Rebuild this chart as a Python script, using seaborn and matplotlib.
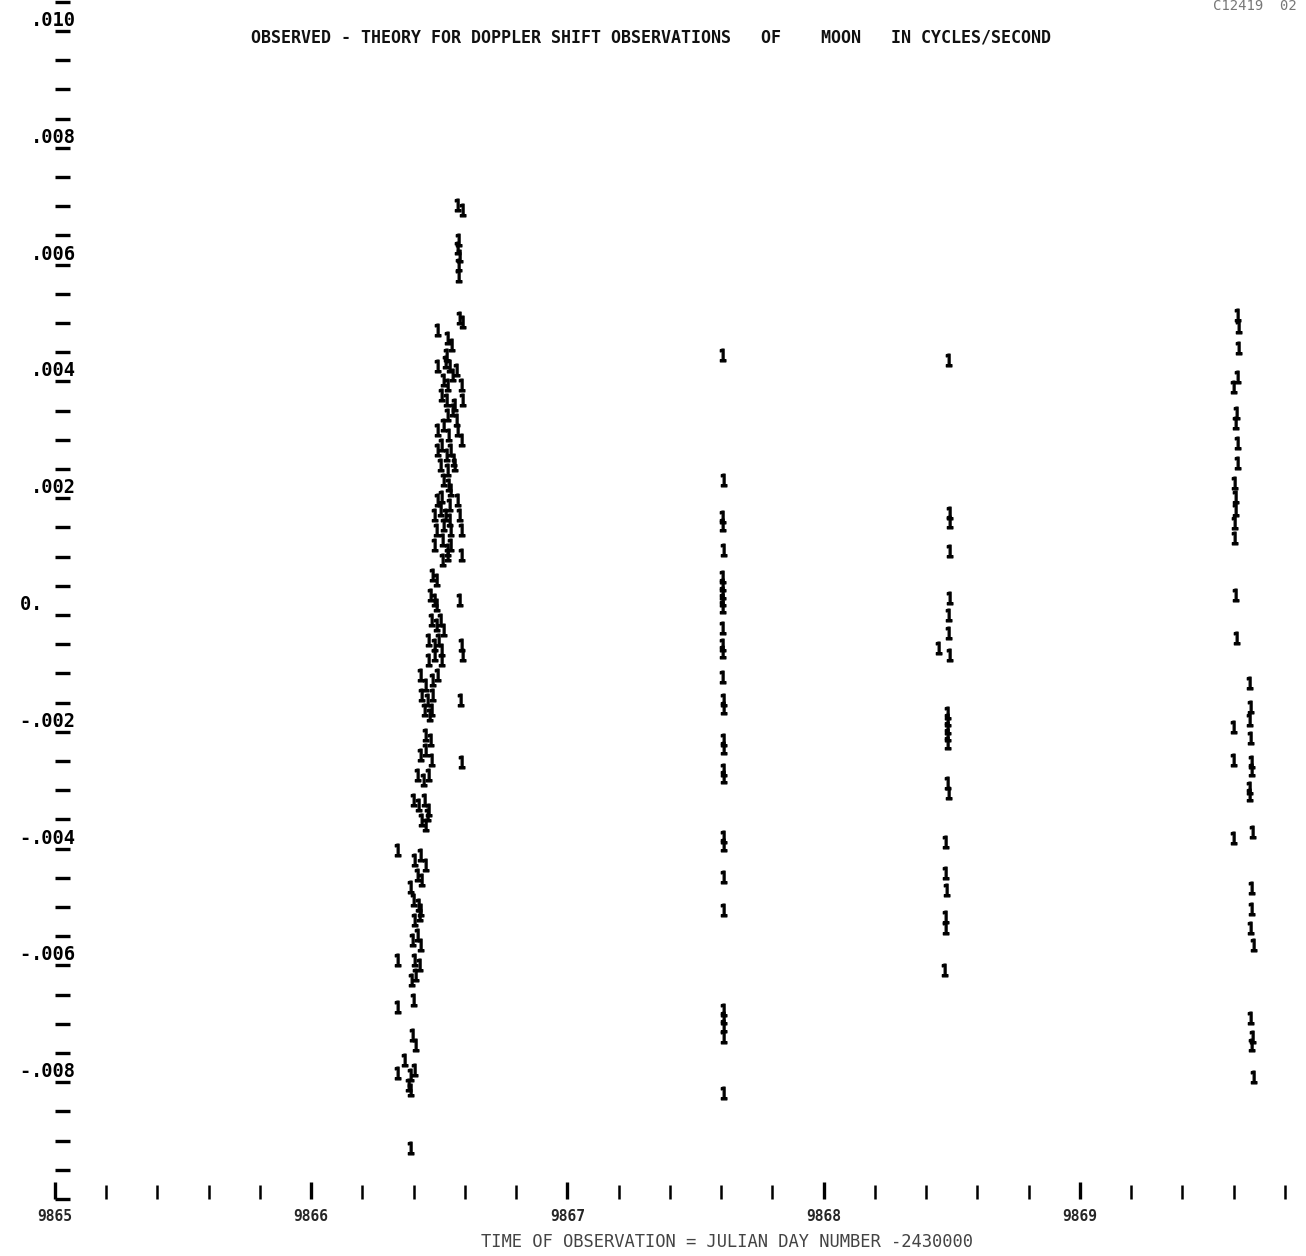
import numpy as np
import pandas as pd
import matplotlib
matplotlib.use("Agg")
import matplotlib.pyplot as plt
import matplotlib.transforms as mtransforms
from matplotlib.textpath import TextPath
from matplotlib.font_manager import FontProperties
from matplotlib.path import Path
import seaborn as sns

# ---------------- data (time = JD - 2430000, residual in cycles/second) ----------------
# pass 1 (around 9866.3 - 9866.6)
t_pass1 = [9866.569, 9866.589, 9866.573, 9866.569, 9866.577, 9866.573, 9866.573,
           9866.577, 9866.589, 9866.491, 9866.530, 9866.546, 9866.526,
           9866.491, 9866.522, 9866.538, 9866.565,
           9866.514, 9866.530, 9866.550, 9866.585,
           9866.507, 9866.526, 9866.557, 9866.589,
           9866.530, 9866.550, 9866.565,
           9866.491, 9866.514, 9866.534, 9866.569, 9866.585,
           9866.491, 9866.507, 9866.526, 9866.542, 9866.553,
           9866.503, 9866.530, 9866.557,
           9866.514, 9866.534, 9866.542,
           9866.491, 9866.507, 9866.538, 9866.569,
           9866.479, 9866.503, 9866.522, 9866.538, 9866.577,
           9866.487, 9866.514, 9866.542, 9866.585,
           9866.479, 9866.511, 9866.530, 9866.542,
           9866.511, 9866.530, 9866.585,
           9866.471, 9866.487,
           9866.464, 9866.479, 9866.487, 9866.577,
           9866.468, 9866.487, 9866.503, 9866.514,
           9866.456, 9866.479, 9866.495, 9866.507, 9866.585,
           9866.456, 9866.479, 9866.507, 9866.589,
           9866.425, 9866.444, 9866.471, 9866.491,
           9866.429, 9866.452, 9866.471, 9866.581,
           9866.440, 9866.460, 9866.468,
           9866.444, 9866.464,
           9866.425, 9866.444, 9866.468, 9866.585,
           9866.413, 9866.436, 9866.456,
           9866.397, 9866.417, 9866.440, 9866.456,
           9866.429, 9866.444, 9866.452,
           9866.335,
           9866.401, 9866.425, 9866.444,
           9866.386, 9866.413, 9866.429,
           9866.397, 9866.417, 9866.425,
           9866.401, 9866.421,
           9866.393, 9866.413, 9866.425,
           9866.335, 9866.401, 9866.421,
           9866.390, 9866.405,
           9866.335, 9866.397,
           9866.393, 9866.405,
           9866.362,
           9866.335, 9866.386, 9866.401,
           9866.378, 9866.386,
           9866.386]
r_pass1 = [0.00702, 0.00693, 0.00642, 0.00628, 0.00615, 0.00599, 0.00580,
           0.00509, 0.00502, 0.00488, 0.00475, 0.00462, 0.00445,
           0.00426, 0.00433, 0.00426, 0.00420,
           0.00402, 0.00394, 0.00411, 0.00394,
           0.00377, 0.00368, 0.00360, 0.00368,
           0.00342, 0.00351, 0.00334,
           0.00317, 0.00325, 0.00308, 0.00317, 0.00300,
           0.00283, 0.00291, 0.00274, 0.00283, 0.00265,
           0.00257, 0.00248, 0.00257,
           0.00231, 0.00223, 0.00214,
           0.00197, 0.00202, 0.00188, 0.00197,
           0.00171, 0.00180, 0.00171, 0.00163, 0.00171,
           0.00146, 0.00154, 0.00146, 0.00146,
           0.00120, 0.00128, 0.00111, 0.00120,
           0.00094, 0.00103, 0.00103,
           0.00068, 0.00060,
           0.00034, 0.00026, 0.00017, 0.00026,
           -0.00009, -0.00017, -0.00009, -0.00026,
           -0.00043, -0.00051, -0.00043, -0.00060, -0.00051,
           -0.00077, -0.00068, -0.00077, -0.00068,
           -0.00103, -0.00120, -0.00111, -0.00103,
           -0.00137, -0.00146, -0.00137, -0.00146,
           -0.00163, -0.00171, -0.00163,
           -0.00205, -0.00214,
           -0.00240, -0.00231, -0.00248, -0.00252,
           -0.00274, -0.00283, -0.00274,
           -0.00317, -0.00325, -0.00317, -0.00334,
           -0.00351, -0.00360, -0.00342,
           -0.00402,
           -0.00420, -0.00411, -0.00428,
           -0.00466, -0.00445, -0.00454,
           -0.00488, -0.00497, -0.00505,
           -0.00522, -0.00514,
           -0.00557, -0.00548, -0.00565,
           -0.00591, -0.00591, -0.00599,
           -0.00625, -0.00616,
           -0.00671, -0.00659,
           -0.00719, -0.00736,
           -0.00762,
           -0.00784, -0.00788, -0.00779,
           -0.00805, -0.00813,
           -0.00913]

# pass 2 (around 9867.6)
t_pass2 = [9867.603, 9867.607, 9867.603, 9867.603, 9867.607, 9867.603, 9867.603,
           9867.603, 9867.603, 9867.603, 9867.603, 9867.603, 9867.603, 9867.603,
           9867.607, 9867.607, 9867.607, 9867.607, 9867.607, 9867.607, 9867.607,
           9867.607, 9867.607, 9867.607, 9867.607, 9867.607, 9867.607, 9867.607,
           9867.607]
r_pass2 = [0.00445, 0.00231, 0.00168, 0.00154, 0.00111, 0.00065, 0.00051,
           0.00038, 0.00026, 0.00014, -0.00022, -0.00051, -0.00063, -0.00106,
           -0.00146, -0.00159, -0.00214, -0.00228, -0.00265, -0.00277, -0.00380,
           -0.00394, -0.00449, -0.00505, -0.00676, -0.00690, -0.00704, -0.00723,
           -0.00818]

# pass 3 (around 9868.5)
t_pass3 = [9868.486, 9868.489, 9868.489, 9868.489, 9868.489, 9868.486, 9868.486,
           9868.447, 9868.489, 9868.482, 9868.482, 9868.482, 9868.482, 9868.482,
           9868.482, 9868.486, 9868.474, 9868.474, 9868.478, 9868.474, 9868.474,
           9868.470]
r_pass3 = [0.00437, 0.00175, 0.00160, 0.00110, 0.00029, 0.00000, -0.00031,
           -0.00056, -0.00068, -0.00168, -0.00180, -0.00193, -0.00205, -0.00219,
           -0.00288, -0.00305, -0.00389, -0.00442, -0.00471, -0.00517, -0.00536,
           -0.00608]

# pass 4 (around 9869.6 - 9869.7)
t_pass4 = [9869.614, 9869.618, 9869.618, 9869.614, 9869.598, 9869.610, 9869.606,
           9869.614, 9869.614, 9869.602, 9869.606, 9869.606, 9869.602, 9869.602,
           9869.606, 9869.610, 9869.661, 9869.664, 9869.661, 9869.598, 9869.664,
           9869.598, 9869.668, 9869.668, 9869.661, 9869.661, 9869.672, 9869.598,
           9869.668, 9869.668, 9869.664, 9869.676, 9869.664, 9869.672, 9869.668,
           9869.676]
r_pass4 = [0.00514, 0.00493, 0.00457, 0.00408, 0.00390, 0.00346, 0.00329,
           0.00294, 0.00260, 0.00226, 0.00202, 0.00180, 0.00158, 0.00132,
           0.00034, -0.00039, -0.00116, -0.00158, -0.00180, -0.00192, -0.00211,
           -0.00248, -0.00252, -0.00265, -0.00296, -0.00308, -0.00372, -0.00382,
           -0.00467, -0.00503, -0.00536, -0.00565, -0.00690, -0.00723, -0.00736,
           -0.00791]

y_tick_values = [0.010, 0.008, 0.006, 0.004, 0.002, 0.0, -0.002, -0.004, -0.006, -0.008]
y_tick_prefix = ["", "", "", "", "", "0", "-", "-", "-", "-"]
y_tick_suffix = [".010", ".008", ".006", ".004", ".002", ".", ".002", ".004", ".006", ".008"]
x_major_values = [9865, 9866, 9867, 9868, 9869]
x_major_labels = ["9865", "9866", "9867", "9868", "9869"]

title_text = "OBSERVED - THEORY FOR DOPPLER SHIFT OBSERVATIONS   OF    MOON   IN CYCLES/SECOND"
xlabel_text = "TIME OF OBSERVATION = JULIAN DAY NUMBER -2430000"
corner_text = "C12419  02"

# ---------------- figure ----------------
sns.set_theme(style="white")
plt.rcParams["font.family"] = ["DejaVu Sans Mono", "DejaVu Sans"]

# narrow, bold "1" glyph used as the plotting symbol (like a line-printer plot)
_tp = TextPath((0, 0), "1", prop=FontProperties(family="DejaVu Sans", weight="bold"))
_v = _tp.vertices.copy()
_v[:, 0] -= (_v[:, 0].max() + _v[:, 0].min()) / 2
_v[:, 1] -= (_v[:, 1].max() + _v[:, 1].min()) / 2
_v[:, 0] *= 0.62
one_marker = Path(_v, _tp.codes)

W, H = 1306, 1256
fig = plt.figure(figsize=(W / 100, H / 100), dpi=100)
ax = fig.add_axes([55 / W, (H - 1199) / H, (1297.6 - 55) / W, (1199 - 1.8) / H])

df = pd.DataFrame({
    "time": t_pass1 + t_pass2 + t_pass3 + t_pass4,
    "residual": r_pass1 + r_pass2 + r_pass3 + r_pass4,
})
sns.scatterplot(data=df, x="time", y="residual", marker=one_marker, s=85,
                color="black", edgecolor="black", linewidth=0.9, ax=ax, legend=False)

ax.set_xlim(9865, 9869.85)
ax.set_ylim(-0.010, 0.0105)
for sp in ax.spines.values():
    sp.set_visible(False)
ax.set_xlabel("")
ax.set_ylabel("")

# y ticks: dashes every 0.0005
ax.set_yticks(np.arange(-0.010, 0.01051, 0.0005))
ax.set_yticklabels([])
ax.tick_params(axis="y", direction="in", length=11, width=2.4, color="black", left=True)

# x ticks: bars every 0.2 day
ax.set_xticks(x_major_values)
ax.set_xticklabels(x_major_labels, fontsize=10.5, fontweight="bold", family="DejaVu Sans Mono")
ax.set_xticks(np.arange(9865, 9869.81, 0.2), minor=True)
ax.tick_params(axis="x", which="major", direction="in", length=12, width=2.4,
               color="black", bottom=True, pad=7)
ax.tick_params(axis="x", which="minor", direction="in", length=10, width=1.8,
               color="black", bottom=True)

# y tick labels, decimal point aligned, drawn just above each dash
trans = mtransforms.blended_transform_factory(ax.transAxes, ax.transData)
for v, pre, suf in zip(y_tick_values, y_tick_prefix, y_tick_suffix):
    tr = mtransforms.offset_copy(trans, fig=fig, x=-24 * 0.72, y=10.5 * 0.72, units="points")
    ax.text(0, v, suf, transform=tr, ha="left", va="center", fontsize=13.5,
            fontweight="bold", family="DejaVu Sans Mono", color="black", clip_on=False)
    if pre:
        ax.text(0, v, pre, transform=tr, ha="right", va="center", fontsize=13.5,
                fontweight="bold", family="DejaVu Sans Mono", color="black", clip_on=False)

fig.text(651 / W, 1 - 38 / H, title_text, ha="center", va="center", fontsize=12,
         fontweight="bold", family="DejaVu Sans Mono", color="#111111")
fig.text(727 / W, 1 - 1242 / H, xlabel_text, ha="center", va="center", fontsize=12.3,
         family="DejaVu Sans Mono", color="#444444")
fig.text(1213 / W, 1 - 6 / H, corner_text, ha="left", va="center", fontsize=10,
         family="DejaVu Sans Mono", color="#777777")

fig.savefig("out.png", dpi=100, facecolor="white")
